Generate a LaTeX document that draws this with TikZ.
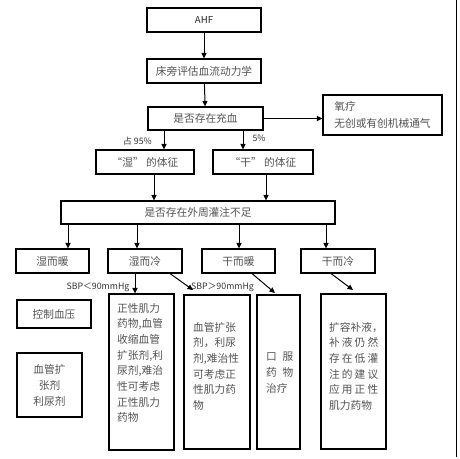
\documentclass[tikz,border=0pt]{standalone}
\usepackage{fontspec}
\setmainfont{Noto Sans CJK SC}
\usetikzlibrary{arrows.meta,calc}
\begin{document}
\begin{tikzpicture}[x=1pt,y=-1pt,
  box/.style={draw=black, line width=1.1pt, inner sep=0pt, text=black!68, align=center, font=\fontsize{10.7}{16}\selectfont},
  arr/.style={line width=1pt, -{Triangle[length=5.5pt,width=5pt]}},
  lbl/.style={inner sep=0pt, text=black!80, font=\fontsize{8.8}{10}\selectfont},
  txt/.style={inner sep=0pt, text=black!68, align=left, font=\fontsize{10.7}{15.65}\selectfont}]
\useasboundingbox (0,0) rectangle (460,458);
\draw[line width=0.8pt] (456,0) -- (456,457);
% coordinates for connector abscissae
\coordinate (xa) at (164,0);
\coordinate (xb) at (243,0);
\coordinate (xc) at (154,0);
\coordinate (xd) at (266,0);
\coordinate (xe) at (68,0);
\coordinate (xf) at (137,0);
\coordinate (xg) at (239,0);
\coordinate (xh) at (326,0);
\coordinate (xi) at (135,0);
\coordinate (xj) at (170,0);
\coordinate (xk) at (252,0);
\coordinate (xl) at (331,0);
\coordinate (e1) at (193,290);
\coordinate (e2) at (275,293);
\coordinate (e3) at (353,290);
% nodes
\node[box, minimum width=114pt, minimum height=24pt] (ahf) at (204,20) {\fontsize{9.6}{11}\selectfont\color{black!85}AHF};
\node[box, minimum width=114pt, minimum height=24pt] (cp) at (204,71) {床旁评估血流动力学};
\node[box, minimum width=115pt, minimum height=23pt] (cx) at (205.5,118.5) {是否存在充血};
\node[box, minimum width=119pt, minimum height=40pt, align=left, font=\fontsize{10.7}{17}\selectfont] (yl) at (382.5,115) {氧疗\\无创或有创机械通气};
\node[box, minimum width=98pt, minimum height=24pt] (sz) at (145,162) {“湿” 的体征};
\node[box, minimum width=100pt, minimum height=24pt] (gz) at (263,162) {“干” 的体征};
\node[box, minimum width=274pt, minimum height=23pt] (gg) at (198,212.5) {是否存在外周灌注不足};
\node[box, minimum width=73pt, minimum height=24pt] (sn) at (52.5,261) {湿而暖};
\node[box, minimum width=74pt, minimum height=24pt] (hl) at (145,261) {湿而冷};
\node[box, minimum width=73pt, minimum height=24pt] (ga) at (238.5,261) {干而暖};
\node[box, minimum width=74pt, minimum height=24pt] (gl) at (338,261) {干而冷};
\node[box, minimum width=74pt, minimum height=28pt] (kz) at (54,314) {控制血压};
\node[box, minimum width=65pt, minimum height=64pt] (xg2) at (49.5,385) {血管扩\\张剂\\利尿剂};
\node[box, minimum width=65pt, minimum height=156pt] (c1) at (141.5,372) {};
\node[box, minimum width=66pt, minimum height=154pt] (c2) at (217,372) {};
\node[box, minimum width=43pt, minimum height=154pt] (c3) at (278.5,372) {};
\node[box, minimum width=65pt, minimum height=155pt] (c4) at (353.5,371.5) {};
% texts inside tall boxes
\node[txt, anchor=north west] (t1) at (117,303) {正性肌力\\药物,血管\\收缩血管\\扩张剂,利\\尿剂,难治\\性可考虑\\正性肌力\\药物};
\node[txt, anchor=north west] (t2) at (193,322) {血管扩张\\剂，利尿\\剂,难治性\\可考虑正\\性肌力药\\物};
\node[txt, anchor=north west] (t3) at (266,352) {\makebox[27pt][s]{口\hfill 服}\\\makebox[27pt][s]{药\hfill 物}\\治疗};
\node[txt, anchor=north west] (t4) at (329,322) {扩容补液，\\\makebox[49pt][s]{补\hfill 液\hfill 仍\hfill 然}\\\makebox[49pt][s]{存\hfill 在\hfill 低\hfill 灌}\\\makebox[49pt][s]{注\hfill 的\hfill 建\hfill 议}\\\makebox[49pt][s]{应\hfill 用\hfill 正\hfill 性}\\肌力药物};
% labels
\node[lbl] (l95) at (137.5,141) {占 95\%};
\node[lbl] (l5) at (259,138) {5\%};
\node[lbl] (llt) at (98,287) {SBP＜90mmHg};
\node[lbl] (lgt) at (222.5,287) {SBP＞90mmHg};
% connectors
\draw[arr] (ahf) -- (cp);
\draw[arr] (cp) -- (cx);
\draw[arr] (cx.east) -- (cx.east -| yl.west);
\draw[arr] (cx.south -| xa) -- (sz.north -| xa);
\draw[arr] (cx.south -| xb) -- (gz.north -| xb);
\draw[arr] (sz.south -| xc) -- (gg.north -| xc);
\draw[arr] (gz.south -| xd) -- (gg.north -| xd);
\draw[arr] (gg.south -| xe) -- (sn.north -| xe);
\draw[arr] (gg.south -| xf) -- (hl.north -| xf);
\draw[arr] (gg.south -| xg) -- (ga.north -| xg);
\draw[arr] (gg.south -| xh) -- (gl.north -| xh);
\draw[arr] (hl.south -| xi) -- (c1.north -| xi);
\draw[arr] (hl.south -| xj) -- (e1);
\draw[arr] (ga.south -| xk) -- (e2);
\draw[arr] (gl.south -| xl) -- (e3);
\end{tikzpicture}
\end{document}
